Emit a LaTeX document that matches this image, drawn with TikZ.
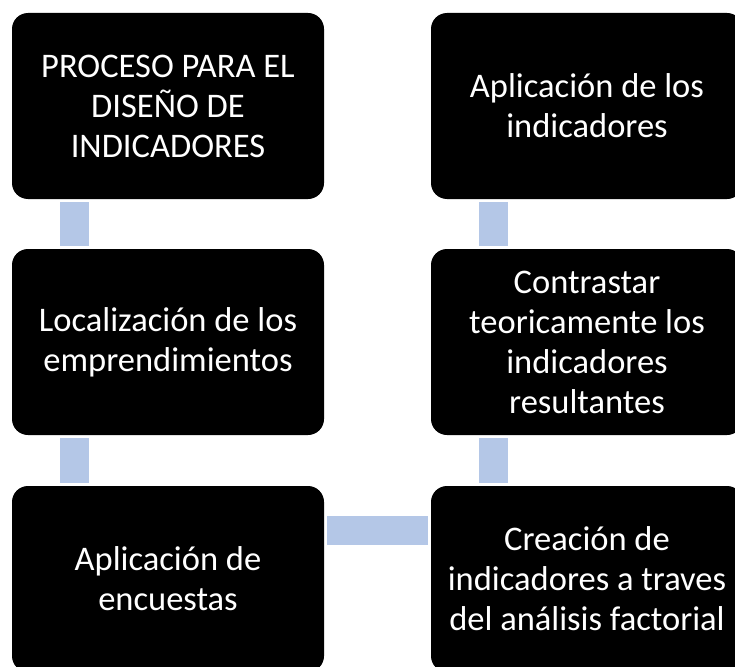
\documentclass[tikz,border=0pt]{standalone}
\usepackage{fontspec}
\setmainfont{Carlito}
\begin{document}
\begin{tikzpicture}[x=1pt,y=-1pt,
    stagebox/.style={fill=black, text=white, rounded corners=16pt,
        minimum width=312pt, minimum height=186pt, inner sep=0pt,
        align=center,
        font=\fontsize{34.5}{40}\selectfont},
    link/.style={draw=linkblue, line width=29pt, shorten <=3pt, shorten >=3pt}]
    \definecolor{linkblue}{HTML}{B4C7E7}
    % Fix the page size
    \useasboundingbox (0,0) rectangle (735,666);

    % Left column
    \node[stagebox] (proceso) at (168,106) {PROCESO PARA EL\\DISEÑO DE\\INDICADORES};
    \node[stagebox] (local) at (168,342) {Localización de los\\emprendimientos};
    \node[stagebox] (encuestas) at (168,579) {Aplicación de\\encuestas};

    % Right column
    \node[stagebox] (creacion) at (587,579) {Creación de\\indicadores a traves\\del análisis factorial};
    \node[stagebox] (contraste) at (587,342) {Contrastar\\teoricamente los\\indicadores\\resultantes};
    \node[stagebox] (aplicacion) at (587,106) {Aplicación de los\\indicadores};

    % Connectors
    \draw[link] ([xshift=-93.5pt]proceso.south) -- ([xshift=-93.5pt]local.north);
    \draw[link] ([xshift=-93.5pt]local.south) -- ([xshift=-93.5pt]encuestas.north);
    \draw[link] ([yshift=48.5pt]encuestas.east) -- ([yshift=48.5pt]creacion.west);
    \draw[link] ([xshift=-93.5pt]creacion.north) -- ([xshift=-93.5pt]contraste.south);
    \draw[link] ([xshift=-93.5pt]contraste.north) -- ([xshift=-93.5pt]aplicacion.south);
\end{tikzpicture}
\end{document}
